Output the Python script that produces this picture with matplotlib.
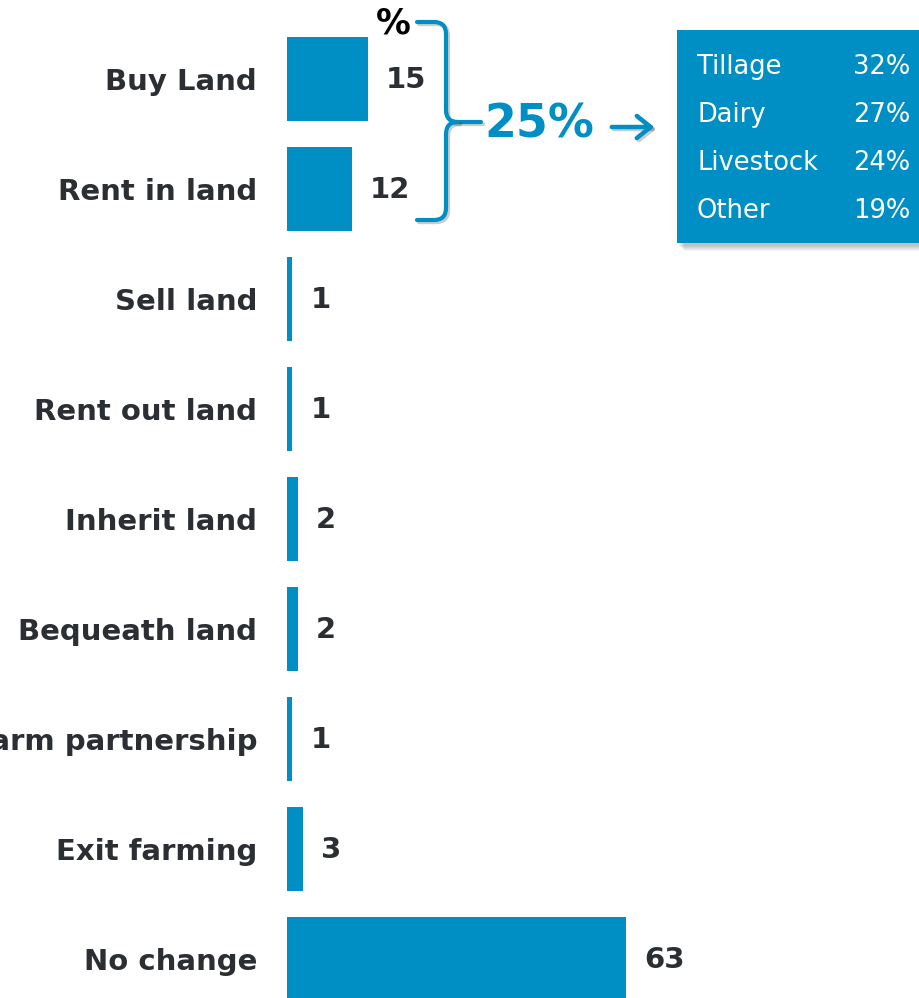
import matplotlib
matplotlib.use("Agg")
import matplotlib.pyplot as plt
from matplotlib.path import Path
from matplotlib.patches import PathPatch, Rectangle, FancyArrowPatch
import matplotlib.patheffects as pe

categories = ["Buy Land", "Rent in land", "Sell land", "Rent out land", "Inherit land",
              "Bequeath land", "Enter farm partnership", "Exit farming", "No change"]
values = [15, 12, 1, 1, 2, 2, 1, 3, 63]

brace_total = 25
breakdown_labels = ["Tillage", "Dairy", "Livestock", "Other"]
breakdown_values = [32, 27, 24, 19]

BLUE = "#008FC4"
DARK = "#2B2E33"
W, H = 919, 998


def px(x, y):
    """pixel position (from top left) -> figure fraction"""
    return (x / W, 1 - y / H)


fig = plt.figure(figsize=(W / 100, H / 100), dpi=100)
# bars: x=0 at 287px, ~5.38 px per unit; rows every 110px
ax = fig.add_axes([287 / W, 0, 1 - 287 / W, 1])
ypos = list(range(len(categories)))
ax.barh(ypos, values, height=0.755, color=BLUE)
ax.set_xlim(0, (W - 287) / 5.38)
ax.set_ylim(8 + 39 / 110, -79 / 110)
ax.set_yticks(ypos)
ax.set_yticklabels(categories, fontsize=21, fontweight="bold", color=DARK)
ax.tick_params(axis="y", length=0, pad=21.5)
ax.set_xticks([])
for s in ax.spines.values():
    s.set_visible(False)

for y, v in zip(ypos, values):
    ax.annotate(str(v), (v, y), xytext=(13, -1), textcoords="offset points",
                ha="left", va="center", fontsize=21, fontweight="bold", color=DARK)

# "%" header
fig.text(*px(393, 24), "%", ha="center", va="center", fontsize=25,
         fontweight="bold", color="black")

# curly brace
shadow = [pe.SimpleLineShadow(offset=(1.5, -1.5), alpha=0.2), pe.Normal()]
upper = [(417, 22), (434, 22), (446, 22), (446, 34), (446, 110), (446, 122),
         (458, 122), (481, 122)]
lower = [(458, 122), (446, 122), (446, 134), (446, 208), (446, 220), (434, 220), (417, 220)]
codes_up = [Path.MOVETO, Path.LINETO, Path.CURVE3, Path.CURVE3, Path.LINETO,
            Path.CURVE3, Path.CURVE3, Path.LINETO]
codes_lo = [Path.MOVETO, Path.CURVE3, Path.CURVE3, Path.LINETO, Path.CURVE3,
            Path.CURVE3, Path.LINETO]
for pts, cds in [(upper, codes_up), (lower, codes_lo)]:
    patch = PathPatch(Path([px(*p) for p in pts], cds), transform=fig.transFigure,
                      fill=False, edgecolor=BLUE, linewidth=3, capstyle="round",
                      path_effects=shadow)
    fig.add_artist(patch)

fig.text(*px(539, 125), f"{brace_total}%", ha="center", va="center",
         fontsize=33, fontweight="bold", color=BLUE)

arrow = FancyArrowPatch(px(609, 127), px(657, 127), transform=fig.transFigure,
                        arrowstyle="->,head_length=10,head_width=8", color=BLUE,
                        linewidth=3.2, capstyle="round", joinstyle="round",
                        path_effects=shadow)
fig.add_artist(arrow)

# breakdown box, with a soft shadow built from a few faint layers
x0, y0 = px(677, 243)
bw, bh = 1 - x0 + 0.01, (243 - 30) / H
for k in range(6, 0, -1):
    fig.add_artist(Rectangle((x0 + (1 + k) / W, y0 - (2 + k) / H), bw, bh,
                             transform=fig.transFigure, facecolor="black",
                             edgecolor="none", alpha=0.045))
fig.add_artist(Rectangle((x0, y0), bw, bh, transform=fig.transFigure,
                         facecolor=BLUE, edgecolor="none"))
for i, (lab, v) in enumerate(zip(breakdown_labels, breakdown_values)):
    yy = 67 + 48 * i
    fig.text(*px(697, yy), lab, ha="left", va="center", fontsize=18.5, color="white")
    fig.text(*px(910, yy), f"{v}%", ha="right", va="center", fontsize=18.5, color="white")

fig.savefig("out.png", dpi=100)
